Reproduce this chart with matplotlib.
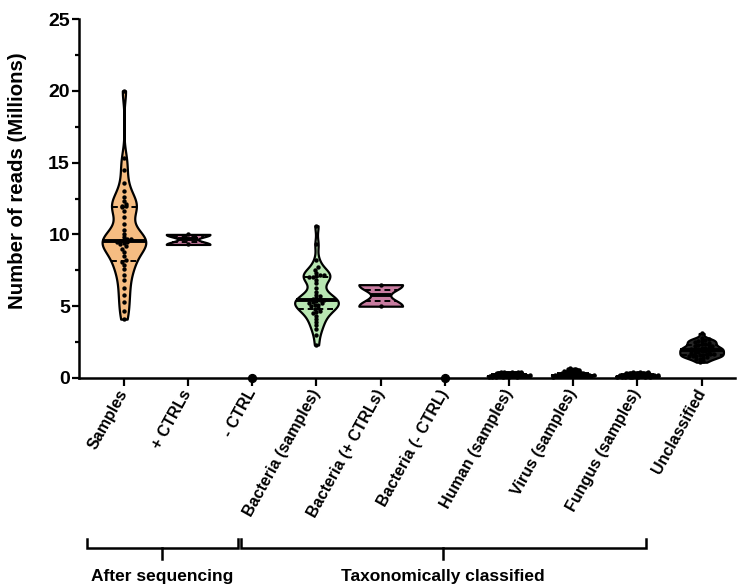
import numpy as np
import matplotlib.pyplot as plt
import matplotlib.transforms as mtransforms
from matplotlib.ticker import MultipleLocator

plt.rcParams['font.family'] = ['Liberation Sans', 'DejaVu Sans']
plt.rcParams['font.weight'] = 'bold'

categories = ["Samples", "+ CTRLs", "- CTRL", "Bacteria (samples)", "Bacteria (+ CTRLs)",
              "Bacteria (- CTRL)", "Human (samples)", "Virus (samples)", "Fungus (samples)",
              "Unclassified"]

# reads per library, in millions
samples = [4.1, 4.7, 5.3, 5.8, 6.3, 6.8, 7.2, 7.6, 7.9, 8.1,
           8.2, 8.5, 8.8, 9.0, 9.2, 9.3, 9.4, 9.45, 9.5, 9.55,
           9.6, 9.65, 9.7, 9.8, 10.0, 10.3, 10.7, 11.2, 11.6, 11.9,
           11.95, 12.0, 12.1, 12.3, 12.6, 13.0, 13.6, 14.5, 15.3, 20.0]
ctrls_pos = [9.3, 10.0]
ctrl_neg = [0.0]
bacteria_samples = [2.3, 3.0, 3.4, 3.7, 3.9, 4.1, 4.3, 4.5, 4.6, 4.7,
                    4.8, 4.9, 5.0, 5.05, 5.1, 5.2, 5.25, 5.3, 5.35, 5.4,
                    5.45, 5.5, 5.6, 5.7, 5.8, 6.0, 6.3, 6.6, 6.8, 7.0,
                    7.05, 7.1, 7.15, 7.2, 7.3, 7.5, 7.7, 8.2, 9.3, 10.6]
bacteria_pos = [5.0, 6.5]
bacteria_neg = [0.0]
human = [0.06, 0.15, 0.26, 0.10, 0.36, 0.19, 0.08, 0.31, 0.41, 0.13, 0.23, 0.28, 0.44, 0.11,
         0.33, 0.09, 0.20, 0.38, 0.17, 0.27, 0.07, 0.24, 0.14, 0.35, 0.18, 0.42, 0.10, 0.29,
         0.15, 0.37, 0.22, 0.12, 0.32, 0.19, 0.40, 0.13, 0.26, 0.43, 0.17, 0.23]
virus = [0.10, 0.20, 0.33, 0.15, 0.48, 0.25, 0.60, 0.18, 0.30, 0.43, 0.14, 0.24, 0.68, 0.19,
         0.37, 0.13, 0.28, 0.53, 0.16, 0.34, 0.21, 0.45, 0.15, 0.58, 0.20, 0.29, 0.39, 0.16,
         0.27, 0.65, 0.14, 0.23, 0.35, 0.50, 0.19, 0.11, 0.32, 0.25, 0.55, 0.18]
fungus = [0.05, 0.13, 0.23, 0.09, 0.33, 0.17, 0.06, 0.28, 0.38, 0.12, 0.20, 0.26, 0.42, 0.10,
          0.31, 0.08, 0.18, 0.36, 0.14, 0.24, 0.06, 0.22, 0.13, 0.32, 0.15, 0.39, 0.09, 0.27,
          0.14, 0.35, 0.19, 0.10, 0.29, 0.17, 0.37, 0.12, 0.23, 0.40, 0.15, 0.21]
unclassified = [1.1, 1.2, 1.3, 1.35, 1.4, 1.45, 1.5, 1.5, 1.55, 1.6, 1.6, 1.65, 1.7, 1.7, 1.75,
                1.8, 1.8, 1.85, 1.9, 1.9, 1.95, 2.0, 2.0, 2.05, 2.1, 2.1, 2.15, 2.2, 2.25, 2.3,
                2.35, 2.4, 2.45, 2.5, 2.55, 2.6, 2.65, 2.7, 2.8, 3.1]

series = [samples, ctrls_pos, ctrl_neg, bacteria_samples, bacteria_pos, bacteria_neg,
          human, virus, fungus, unclassified]
fills = ['#F6BD82', '#C87CA0', '#000000', '#B8E6B2', '#C87CA0', '#000000',
         '#1A1A1A', '#1A1A1A', '#1A1A1A', '#262626']

group_names = ["After sequencing", "Taxonomically classified"]
group_spans = [(-0.58, 1.78), (1.82, 8.13)]


def bandwidth(vals):
    sd = np.std(vals, ddof=1)
    q75, q25 = np.percentile(vals, [75, 25])
    h = 0.9 * min(sd, (q75 - q25) / 1.34) * len(vals) ** -0.2
    # larger groups get a less smoothed outline
    return h if len(vals) < 3 else 0.6 * h


def draw_violin(ax, x, vals, color, max_half=0.34):
    vals = np.sort(np.asarray(vals, float))
    grid = np.linspace(vals.min(), vals.max(), 400)
    h = bandwidth(vals)
    dens = np.exp(-0.5 * ((grid[:, None] - vals[None, :]) / h) ** 2).sum(axis=1)
    dens = dens / dens.max() * max_half
    ax.fill_betweenx(grid, x - dens, x + dens, facecolor=color, edgecolor='black',
                     linewidth=1.6, zorder=2)
    q1, med, q3 = np.percentile(vals, [25, 50, 75])
    w = np.interp(med, grid, dens)
    ax.plot([x - w, x + w], [med, med], color='black', lw=2.8, solid_capstyle='butt', zorder=3)
    for q in (q1, q3):
        w = np.interp(q, grid, dens)
        ax.plot([x - w, x + w], [q, q], color='black', lw=1.4, ls=(0, (3, 2)), zorder=3)
    return lambda y: np.interp(y, grid, dens)


def swarm_offsets(vals, half_width, dx=0.055, dy=0.25):
    vals = np.asarray(vals, float)
    offs = np.zeros(len(vals))
    rows = np.floor(vals / dy)
    for r in np.unique(rows):
        idx = np.where(rows == r)[0]
        k = len(idx)
        if k < 2:
            continue
        o = (np.arange(k) - (k - 1) / 2) * dx
        lim = 0.95 * half_width(vals[idx].mean())
        if np.abs(o).max() > lim:
            o = o * lim / np.abs(o).max()
        offs[idx] = o
    return offs


fig = plt.figure(figsize=(7.38, 5.85), dpi=100)
ax = fig.add_axes([79 / 738, 1 - 378 / 585, (735 - 79) / 738, 359 / 585])

for i, (vals, color) in enumerate(zip(series, fills)):
    if np.ptp(vals) == 0:
        ax.scatter([i] * len(vals), vals, s=32, color='black', zorder=4, clip_on=False)
        continue
    half_width = draw_violin(ax, i, vals, color)
    offs = swarm_offsets(vals, half_width)
    ax.scatter(i + offs, vals, s=10, color='black', linewidths=0, zorder=4, clip_on=False)

ax.set_xlim(-0.70, 9.52)
ax.set_ylim(0, 25)
ax.set_xticks(range(len(categories)))
ax.set_xticklabels(categories, rotation=61, ha='right', va='center', rotation_mode='anchor',
                   fontsize=11.5, fontweight='bold')
ax.yaxis.set_major_locator(MultipleLocator(5))
ax.yaxis.set_minor_locator(MultipleLocator(2.5))
ax.tick_params(axis='y', which='major', length=5, width=1.6, labelsize=14, pad=1.5)
ax.tick_params(axis='y', which='minor', length=3, width=1.6)
ax.tick_params(axis='x', length=6, width=1.6, pad=3)
ax.set_ylabel("Number of reads (Millions)", fontsize=14.7, fontweight='bold')
ax.yaxis.set_label_coords(-0.079, 0.549)
for side in ('top', 'right'):
    ax.spines[side].set_visible(False)
for side in ('left', 'bottom'):
    ax.spines[side].set_linewidth(1.8)

# group brackets under the tick labels
trans = mtransforms.blended_transform_factory(ax.transData, fig.transFigure)
y_end, y_bar, y_stem, y_text = 1 - 539 / 585, 1 - 548 / 585, 1 - 559 / 585, 1 - 577 / 585
for name, (x0, x1) in zip(group_names, group_spans):
    xm = (x0 + x1) / 2
    ax.plot([x0, x0, x1, x1], [y_end, y_bar, y_bar, y_end], color='black', lw=1.8,
            transform=trans, clip_on=False, solid_joinstyle='miter')
    ax.plot([xm, xm], [y_bar, y_stem], color='black', lw=1.8, transform=trans, clip_on=False)
    ax.text(xm, y_text, name, transform=trans, ha='center', va='center',
            fontsize=12.5, fontweight='bold')

fig.savefig('out.png', dpi=100)
